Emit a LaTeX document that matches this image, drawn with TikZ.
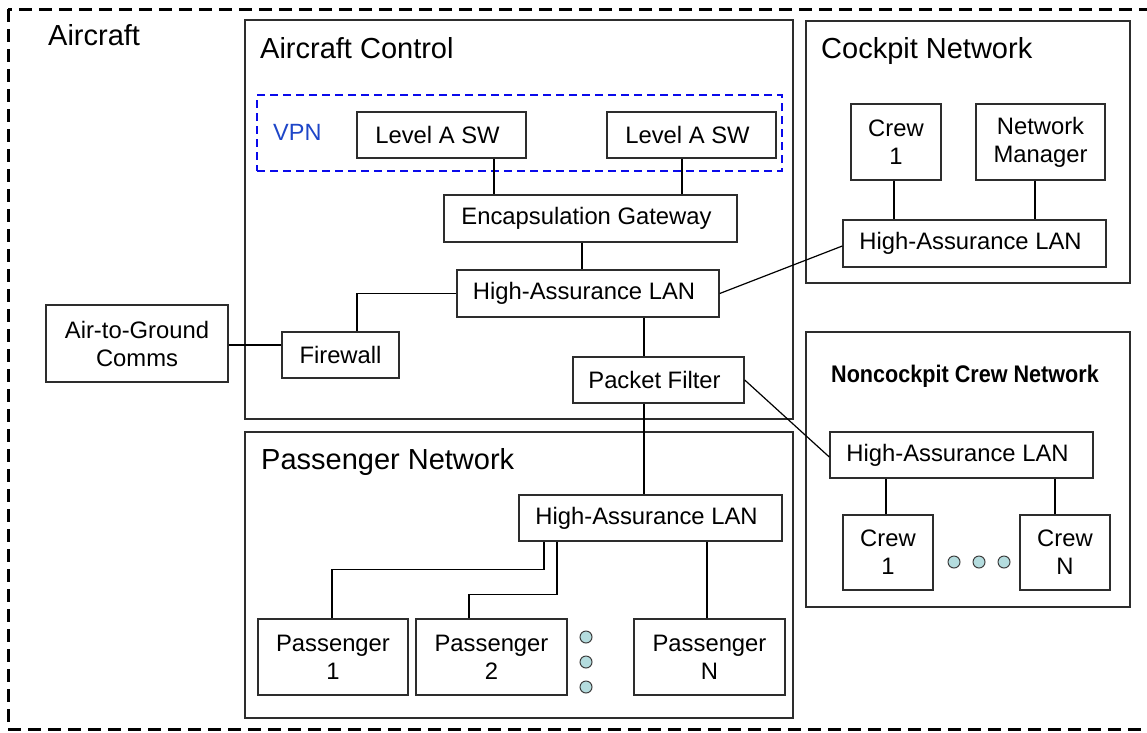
\documentclass[tikz,border=0pt]{standalone}
\usepackage{fontspec}
\setmainfont{Liberation Sans}
\usepackage{graphicx}
\definecolor{edge}{RGB}{45,45,45}
\definecolor{dotfill}{RGB}{180,220,222}
\definecolor{dotedge}{RGB}{60,60,60}
\definecolor{vpnline}{RGB}{10,10,235}
\definecolor{vpntext}{RGB}{30,70,200}
\tikzset{
  unit/.style={draw=edge, line width=1.4pt, fill=white, inner sep=0pt,
    font=\fontsize{23.8}{28}\selectfont, align=center},
  leftset/.style={execute at begin node={\hspace*{-8pt}}},
  zone/.style={draw=edge, line width=1.4pt, inner sep=0pt},
  link/.style={draw=black, line width=1.2pt},
  heading/.style={anchor=base west, inner sep=0pt, font=\fontsize{29}{35}\selectfont},
  ellip/.style={circle, draw=dotedge, fill=dotfill, line width=1pt,
    minimum size=12pt, inner sep=0pt},
}
\begin{document}
\begin{tikzpicture}[x=1pt,y=-1pt]
\useasboundingbox (0,0) rectangle (1147,732);

% outer aircraft boundary (runs past the right edge)
\begin{scope}
  \clip (0,0) rectangle (1147,732);
  \draw[line width=3pt, dash pattern=on 13pt off 7pt] (8,9) rectangle (1170,729);
\end{scope}
\node[heading] (aircraft) at (48,45) {Aircraft};

% zones
\node[zone, minimum width=548, minimum height=399] (ctrlzone) at (519,219.5) {};
\node[zone, minimum width=324, minimum height=262] (ckzone) at (968,152) {};
\node[zone, minimum width=324, minimum height=275] (nczone) at (968,469.5) {};
\node[zone, minimum width=548, minimum height=286] (pzone) at (519,575) {};

\node[heading] (ctrltitle) at (260,58) {Aircraft Control};
\node[heading] (cktitle) at (821,58) {Cockpit Network};
\node[heading] (ptitle) at (261,469) {Passenger Network};
\node[anchor=base, inner sep=0pt, font=\fontsize{24}{28}\selectfont\bfseries]
  (nctitle) at (965,382) {\scalebox{0.9}[1]{Noncockpit Crew Network}};

% VPN enclosure
\node[draw=vpnline, line width=2pt, dash pattern=on 8pt off 5pt,
  minimum width=525, minimum height=76, inner sep=0pt] (vpn) at (519.5,133) {};
\node[anchor=base west, inner sep=0pt, text=vpntext,
  font=\fontsize{23.5}{28}\selectfont] (vpnlabel) at (273,140) {VPN};

% aircraft control units
\node[unit, leftset, minimum width=169, minimum height=46] (lvlL) at (441.5,135) {Level A SW};
\node[unit, leftset, minimum width=169, minimum height=46] (lvlR) at (691.5,135) {Level A SW};
\node[unit, leftset, minimum width=293, minimum height=47] (encap) at (590.5,218.5) {Encapsulation Gateway};
\node[unit, leftset, minimum width=262, minimum height=47] (lan) at (588,293.5) {High-Assurance LAN};
\node[unit, minimum width=117, minimum height=46] (fw) at (340.5,355) {Firewall};
\node[unit, leftset, minimum width=171, minimum height=46] (pf) at (658.5,380) {Packet Filter};
\node[unit, minimum width=182, minimum height=77] (a2g) at (137,343.5) {Air-to-Ground\\Comms};

% cockpit network units
\node[unit, minimum width=90, minimum height=76] (ck1) at (896,142) {Crew\\1};
\node[unit, minimum width=129, minimum height=76] (nm) at (1040.5,142) {Network\\Manager};
\node[unit, leftset, minimum width=263, minimum height=47] (cklan) at (974.5,243.5) {High-Assurance LAN};

% noncockpit crew units
\node[unit, leftset, minimum width=263, minimum height=46] (nclan) at (961.5,455) {High-Assurance LAN};
\node[unit, minimum width=90, minimum height=75] (nc1) at (888,552.5) {Crew\\1};
\node[unit, minimum width=90, minimum height=75] (ncN) at (1065,552.5) {Crew\\N};

% passenger units
\node[unit, leftset, minimum width=263, minimum height=46] (plan) at (650.5,518) {High-Assurance LAN};
\node[unit, minimum width=150, minimum height=76] (p1) at (333,657) {Passenger\\1};
\node[unit, minimum width=151, minimum height=76] (p2) at (491.5,657) {Passenger\\2};
\node[unit, minimum width=151, minimum height=76] (pN) at (709.5,657) {Passenger\\N};

% ellipses
\node[ellip] (pd1) at (586,637) {};
\node[ellip] (pd2) at (586,662) {};
\node[ellip] (pd3) at (586,687) {};
\node[ellip] (cd1) at (954,562) {};
\node[ellip] (cd2) at (979,562) {};
\node[ellip] (cd3) at (1004,562) {};

% connectors
\draw[link] ([xshift=52.5pt]lvlL.south) -- ([xshift=52.5pt]lvlL.south |- encap.north);
\draw[link] ([xshift=-9.5pt]lvlR.south) -- ([xshift=-9.5pt]lvlR.south |- encap.north);
\draw[link] ([xshift=-8.5pt]encap.south) -- ([xshift=-8.5pt]encap.south |- lan.north);
\draw[link] (lan.west) -| ([xshift=16.5pt]fw.north);
\draw[link] ([yshift=-1.5pt]a2g.east) -- ([yshift=-1.5pt]a2g.east -| fw.west);
\draw[link] ([xshift=56pt]lan.south) -- ([xshift=56pt]lan.south |- pf.north);
\draw[link] (lan.east) -- ([yshift=-2.5pt]cklan.west);
\draw[link] ([xshift=-2pt]ck1.south) -- ([xshift=-2pt]ck1.south |- cklan.north);
\draw[link] ([xshift=-5.5pt]nm.south) -- ([xshift=-5.5pt]nm.south |- cklan.north);
\draw[link] (pf.east) -- ([yshift=-2pt]nclan.west);
\draw[link] ([xshift=-2pt]nc1.north) -- ([xshift=-2pt]nc1.north |- nclan.south);
\draw[link] ([xshift=-10pt]ncN.north) -- ([xshift=-10pt]ncN.north |- nclan.south);
\draw[link] ([xshift=-14.5pt]pf.south) -- ([xshift=-14.5pt]pf.south |- plan.north);
\draw[link] ([xshift=-106.5pt]plan.south) -- ++(0,28) -| ([xshift=-1pt]p1.north);
\draw[link] ([xshift=-93.5pt]plan.south) -- ++(0,53) -| ([xshift=-22.5pt]p2.north);
\draw[link] ([xshift=56.5pt]plan.south) -- ([xshift=56.5pt]plan.south |- pN.north);
\end{tikzpicture}
\end{document}
